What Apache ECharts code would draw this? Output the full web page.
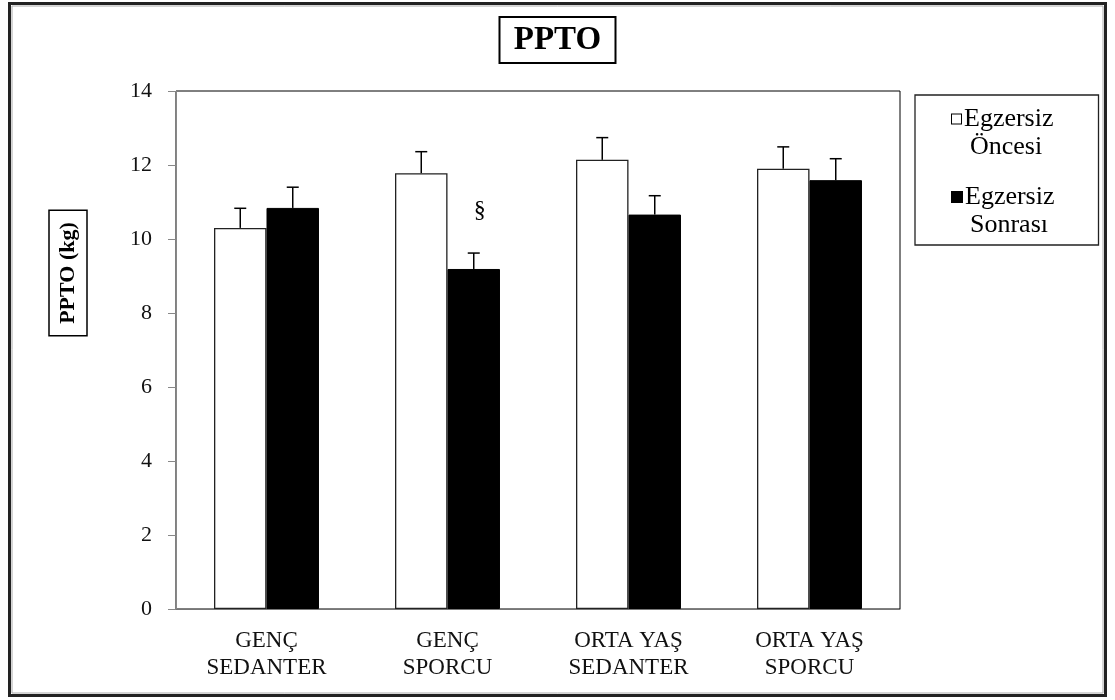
<!DOCTYPE html>
<html>
<head>
<meta charset="utf-8">
<script src="https://cdn.jsdelivr.net/npm/echarts@6/dist/echarts.min.js"></script>
<style>
html,body{margin:0;padding:0;background:#fff;}
#chart{width:1115px;height:700px;}
</style>
</head>
<body>
<div id="chart"></div>
<script>
// ---- data ----
const categories = ['GENÇ\nSEDANTER', 'GENÇ\nSPORCU', 'ORTA YAŞ\nSEDANTER', 'ORTA YAŞ\nSPORCU'];
const seriesNames = ['Egzersiz Öncesi', 'Egzersiz Sonrası'];
const beforeValues = [10.30, 11.78, 12.14, 11.90];
const beforeErrors = [0.53, 0.58, 0.60, 0.59];
const afterValues = [10.84, 9.19, 10.66, 11.59];
const afterErrors = [0.56, 0.43, 0.51, 0.58];
const afterMarks = ['', '§', '', ''];
const yMin = 0, yMax = 14, yInterval = 2;
const titleText = 'PPTO';
const yAxisTitle = 'PPTO (kg)';

const FONT = '"Liberation Serif", "Times New Roman", serif';
const chart = echarts.init(document.getElementById('chart'), null, {renderer: 'canvas'});

const BAR_FRAC = 0.29;
function errRender(side) {
  return function (params, api) {
    const x = api.value(0), v = api.value(1), e = api.value(2);
    const base = api.coord([x, v]);
    const top = api.coord([x, v + e]);
    const band = api.size([1, 0])[0];
    const cx = base[0] + side * band * BAR_FRAC / 2;
    const st = {stroke: '#000', lineWidth: 1.5};
    return {
      type: 'group',
      children: [
        {type: 'line', shape: {x1: cx, y1: base[1], x2: cx, y2: top[1]}, style: st},
        {type: 'line', shape: {x1: cx - 6, y1: top[1], x2: cx + 6, y2: top[1]}, style: st}
      ]
    };
  };
}

const legendLines = {
  'Egzersiz Öncesi': ['Egzersiz', 'Öncesi', 'sqW'],
  'Egzersiz Sonrası': ['Egzersiz', 'Sonrası', 'sqB']
};

const option = {
  backgroundColor: '#fff',
  animation: false,
  title: {
    text: titleText,
    left: 'center',
    top: 17,
    padding: [5, 15],
    borderColor: '#000',
    borderWidth: 2,
    textStyle: {fontFamily: FONT, fontWeight: 'bold', fontSize: 33, lineHeight: 36, color: '#000'}
  },
  legend: {
    data: seriesNames,
    orient: 'vertical',
    left: 915,
    top: 95,
    padding: [11, 44, 7, 31],
    itemGap: 24,
    itemWidth: 0,
    itemHeight: 0,
    selectedMode: false,
    borderColor: '#222',
    borderWidth: 1.3,
    formatter: function (name) {
      const l = legendLines[name];
      return '{' + l[2] + '|}{g|}{t|' + l[0] + '}\n{pad|}{t|' + l[1] + '}';
    },
    textStyle: {
      fontFamily: FONT,
      fontSize: 26,
      color: '#000',
      rich: {
        t: {fontFamily: FONT, fontSize: 26, lineHeight: 28, color: '#000'},
        g: {width: 3, height: 10},
        pad: {width: 18, height: 10},
        sqW: {width: 9, height: 9, backgroundColor: '#fff', borderColor: '#000', borderWidth: 1},
        sqB: {width: 10, height: 10, backgroundColor: '#000', borderColor: '#000', borderWidth: 1}
      }
    }
  },
  grid: {
    left: 176, right: 215, top: 91, bottom: 91,
    show: true, borderColor: '#000', borderWidth: 1, backgroundColor: '#fff'
  },
  xAxis: {
    type: 'category',
    data: categories,
    axisLine: {lineStyle: {color: '#777', width: 1}},
    axisTick: {show: false},
    axisLabel: {fontFamily: FONT, fontSize: 23, lineHeight: 27, color: '#111', margin: 18, interval: 0}
  },
  yAxis: {
    type: 'value',
    min: yMin, max: yMax, interval: yInterval,
    splitLine: {show: false},
    axisLine: {show: true, lineStyle: {color: '#888', width: 1}},
    axisTick: {show: true, inside: false, length: 8, lineStyle: {color: '#888'}},
    axisLabel: {fontFamily: FONT, fontSize: 22, color: '#111', margin: 24}
  },
  series: [
    {
      name: seriesNames[0],
      type: 'bar',
      data: beforeValues,
      barWidth: (BAR_FRAC * 100) + '%',
      barGap: '0%',
      itemStyle: {color: '#fff', borderColor: '#222', borderWidth: 1.3}
    },
    {
      name: seriesNames[1],
      type: 'bar',
      data: afterValues.map(function (v, i) {
        return afterMarks[i] ? {value: v, label: {show: true, formatter: afterMarks[i]}} : v;
      }),
      barWidth: (BAR_FRAC * 100) + '%',
      barGap: '0%',
      itemStyle: {color: '#000', borderColor: '#000', borderWidth: 1},
      label: {show: false, position: 'top', distance: 46, offset: [6, 0], fontFamily: FONT, fontSize: 24, color: '#000'}
    },
    {
      name: 'errBefore',
      type: 'custom',
      renderItem: errRender(-1),
      data: beforeValues.map(function (v, i) { return [i, v, beforeErrors[i]]; }),
      encode: {x: 0, y: 1},
      z: 5
    },
    {
      name: 'errAfter',
      type: 'custom',
      renderItem: errRender(1),
      data: afterValues.map(function (v, i) { return [i, v, afterErrors[i]]; }),
      encode: {x: 0, y: 1},
      z: 5
    }
  ],
  graphic: [
    {
      type: 'rect', z: 100, silent: true,
      shape: {x: 9.5, y: 3.5, width: 1096, height: 692},
      style: {fill: 'none', stroke: '#222', lineWidth: 3}
    },
    {
      type: 'rect', z: 100, silent: true,
      shape: {x: 12, y: 6, width: 1091, height: 687},
      style: {fill: 'none', stroke: '#aaa', lineWidth: 1}
    },
    {
      type: 'text', z: 100, silent: true,
      x: 68, y: 273, rotation: Math.PI / 2,
      style: {
        text: yAxisTitle,
        font: 'bold 22px ' + FONT,
        fill: '#000',
        align: 'center',
        verticalAlign: 'middle',
        lineHeight: 26,
        padding: [6, 12, 6, 12],
        borderColor: '#000',
        borderWidth: 1.5
      }
    }
  ]
};
chart.setOption(option);
</script>
</body>
</html>
